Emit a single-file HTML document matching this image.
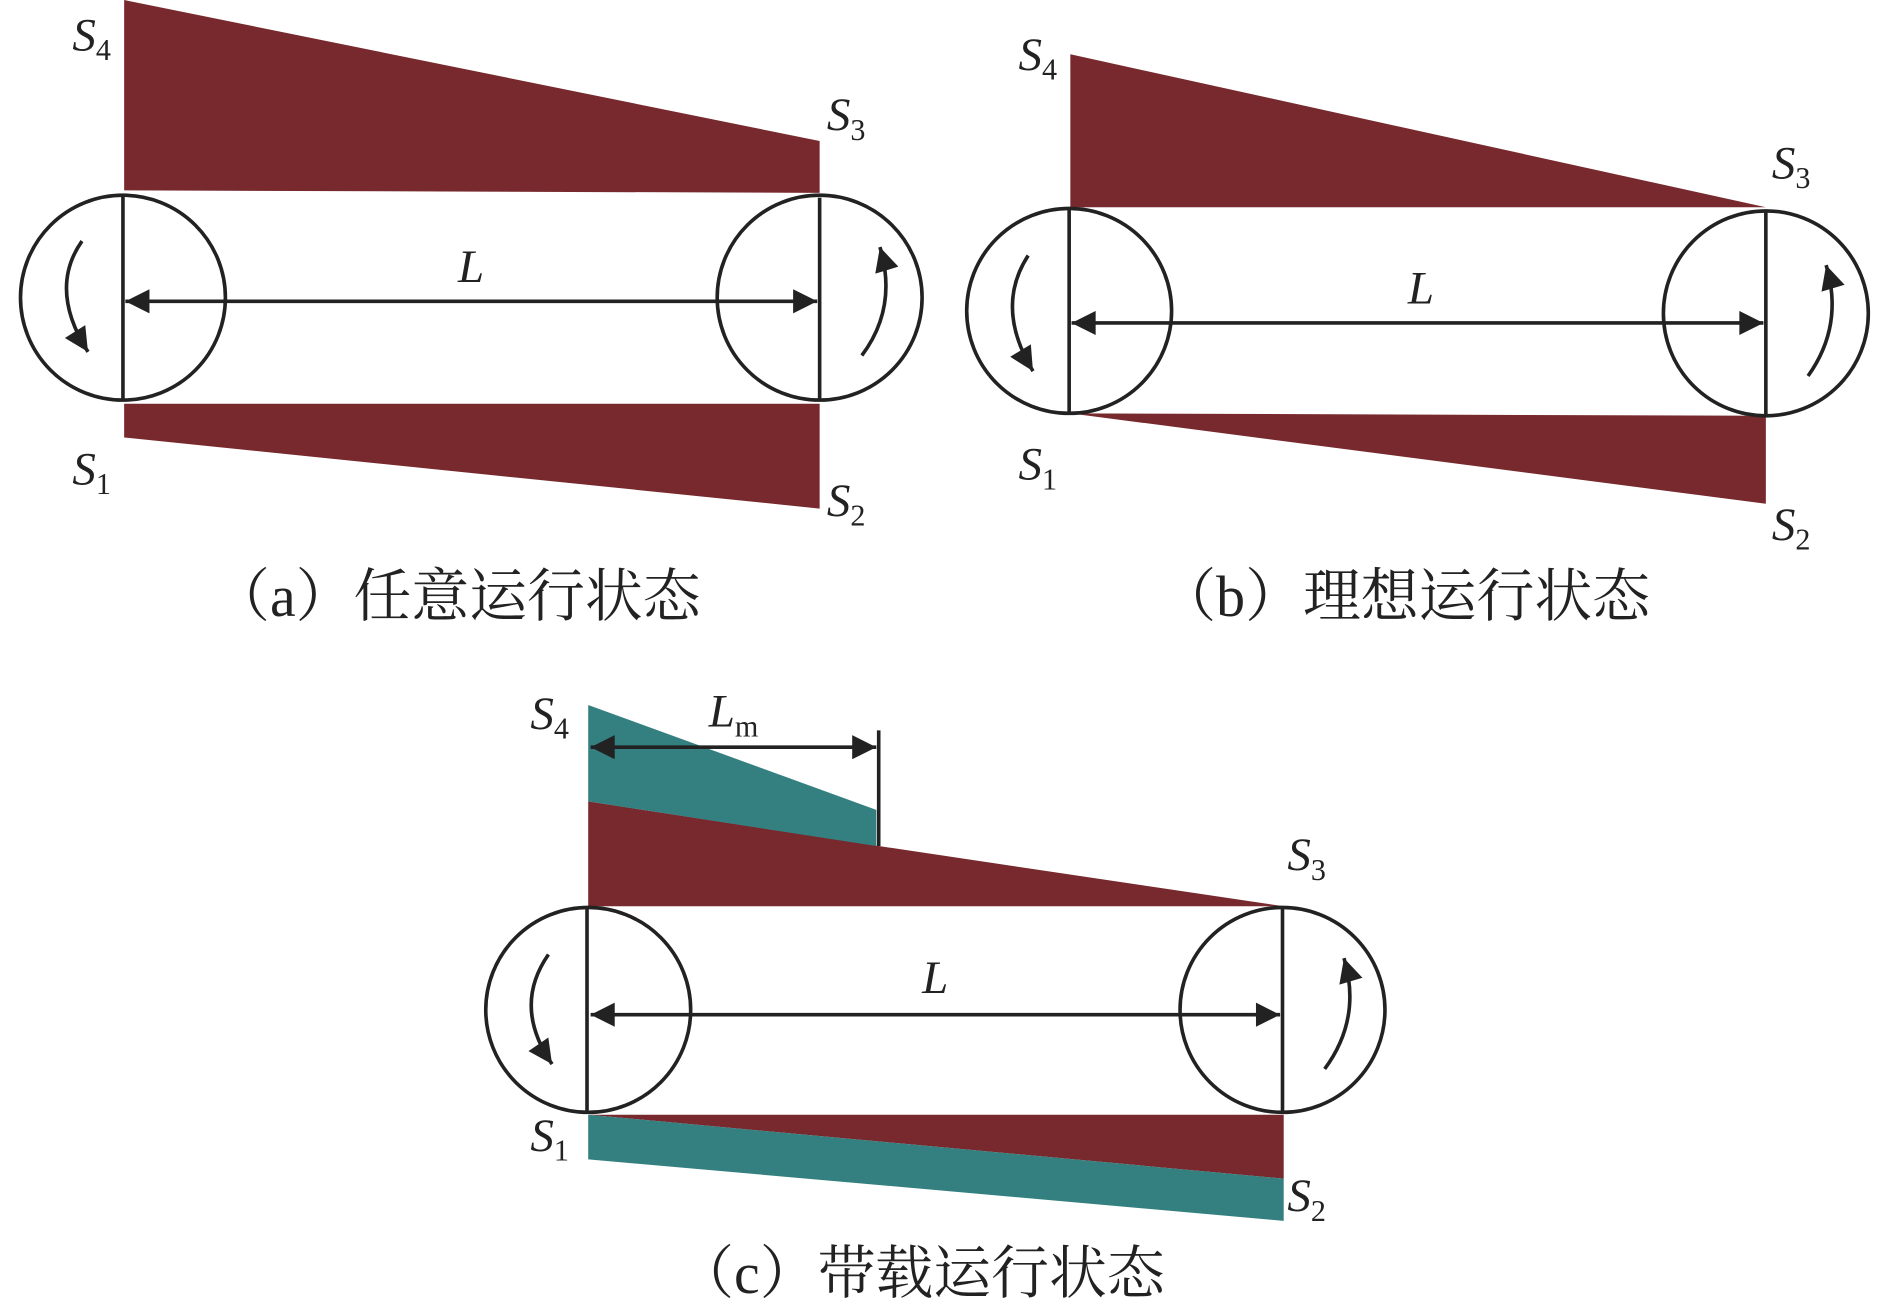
<!DOCTYPE html>
<html><head><meta charset="utf-8"><style>
html,body{margin:0;padding:0;background:#fff;}
svg{display:block;}
.s{font-family:"Liberation Serif",serif;font-style:italic;font-size:39px;fill:#222;}
.sub{font-family:"Liberation Serif",serif;font-style:normal;font-size:25px;}
.cap{font-family:"Liberation Serif","Noto Serif CJK SC",serif;font-size:48px;fill:#222;}
</style></head><body>
<svg width="1890" height="1310" viewBox="0 0 1568 1087" preserveAspectRatio="none" xmlns="http://www.w3.org/2000/svg">
<defs>
<marker id="ab" viewBox="0 0 10 10" refX="10" refY="5" markerWidth="40" markerHeight="20" markerUnits="userSpaceOnUse" orient="auto-start-reverse"><path d="M0,0 L10,5 L0,10 z" fill="#222"/></marker>
</defs>
<g stroke="#222" stroke-width="3" fill="none">
<polygon points="103,0 680,117 680,160 103,158" fill="#77292d" stroke="none"/>
<polygon points="103,335 680,335 680,422 103,363" fill="#77292d" stroke="none"/>
<circle cx="102" cy="247" r="85"/><circle cx="680" cy="247" r="85"/>
<line x1="102" y1="162" x2="102" y2="331"/><line x1="680" y1="164" x2="680" y2="331"/>
<line x1="104" y1="250" x2="678" y2="250" marker-start="url(#ab)" marker-end="url(#ab)"/>
<path d="M68,200 Q40,240 73,292" marker-end="url(#ab)"/>
<path d="M715,295 Q745,255 730,205" marker-end="url(#ab)"/>
<polygon points="888,45 1465,172 888,172" fill="#77292d" stroke="none"/>
<polygon points="888,343 1465,345 1465,418" fill="#77292d" stroke="none"/>
<circle cx="887" cy="258" r="85"/><circle cx="1465" cy="260" r="85"/>
<line x1="887" y1="173" x2="887" y2="343"/><line x1="1465" y1="175" x2="1465" y2="345"/>
<line x1="889" y1="268" x2="1463" y2="268" marker-start="url(#ab)" marker-end="url(#ab)"/>
<path d="M853,212 Q825,255 857,308" marker-end="url(#ab)"/>
<path d="M1500,312 Q1530,270 1515,220" marker-end="url(#ab)"/>
<polygon points="488,665 729,702 1065,752 488,752" fill="#77292d" stroke="none"/>
<polygon points="488,585 727,672 727,702 488,665" fill="#348080" stroke="none"/>
<polygon points="488,925 1065,925 1065,978" fill="#77292d" stroke="none"/>
<polygon points="488,925 1065,978 1065,1013 488,962" fill="#348080" stroke="none"/>
<line x1="729" y1="606" x2="729" y2="702"/>
<line x1="490" y1="620" x2="727" y2="620" marker-start="url(#ab)" marker-end="url(#ab)"/>
<circle cx="488" cy="838" r="85"/><circle cx="1064" cy="838" r="85"/>
<line x1="487" y1="753" x2="487" y2="923"/><line x1="1064" y1="753" x2="1064" y2="923"/>
<line x1="490" y1="842" x2="1062" y2="842" marker-start="url(#ab)" marker-end="url(#ab)"/>
<path d="M455,792 Q425,835 458,883" marker-end="url(#ab)"/>
<path d="M1099,887 Q1130,845 1115,795" marker-end="url(#ab)"/>
</g>
<text class="s" x="60" y="42">S<tspan class="sub" dy="8">4</tspan></text>
<text class="s" x="686" y="108">S<tspan class="sub" dy="8">3</tspan></text>
<text class="s" x="60" y="402">S<tspan class="sub" dy="8">1</tspan></text>
<text class="s" x="686" y="428">S<tspan class="sub" dy="8">2</tspan></text>
<text class="s" x="380" y="234">L</text>
<text class="cap" x="176" y="511">（a）任意运行状态</text>
<text class="s" x="845" y="58">S<tspan class="sub" dy="8">4</tspan></text>
<text class="s" x="1470" y="148">S<tspan class="sub" dy="8">3</tspan></text>
<text class="s" x="845" y="398">S<tspan class="sub" dy="8">1</tspan></text>
<text class="s" x="1470" y="448">S<tspan class="sub" dy="8">2</tspan></text>
<text class="s" x="1168" y="252">L</text>
<text class="cap" x="961" y="511">（b）理想运行状态</text>
<text class="s" x="440" y="605">S<tspan class="sub" dy="8">4</tspan></text>
<text class="s" x="588" y="603">L<tspan class="sub" dy="8">m</tspan></text>
<text class="s" x="1068" y="722">S<tspan class="sub" dy="8">3</tspan></text>
<text class="s" x="440" y="955">S<tspan class="sub" dy="8">1</tspan></text>
<text class="s" x="1068" y="1005">S<tspan class="sub" dy="8">2</tspan></text>
<text class="s" x="765" y="824">L</text>
<text class="cap" x="561" y="1073">（c）带载运行状态</text>
</svg>
</body></html>
